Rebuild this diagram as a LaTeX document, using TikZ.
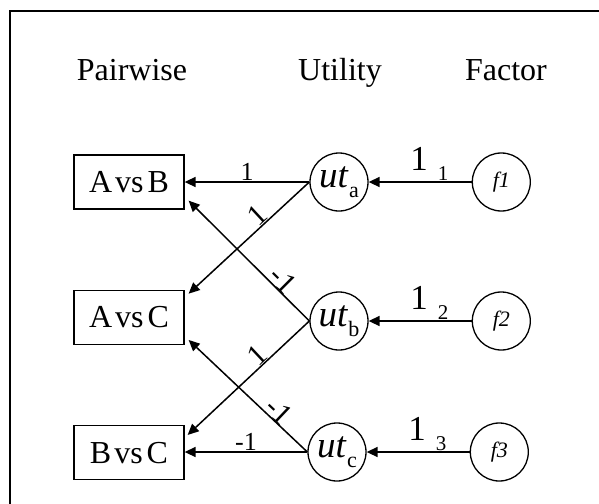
\documentclass[tikz,border=0pt]{standalone}
\usepackage{fontspec}
\setmainfont{Liberation Serif}
\usetikzlibrary{arrows.meta,positioning}
\newcommand{\ut}[1]{{\fontsize{37}{37}\selectfont\itshape ut}\hspace{1pt}\raisebox{-10pt}{\fontsize{22}{22}\selectfont #1}}
\newcommand{\ld}[1]{1\hspace{10pt}\raisebox{-10pt}{\fontsize{21}{21}\selectfont #1}}
\newcommand{\pr}[2]{#1\hspace{3pt}vs\hspace{4pt}#2}

\begin{document}
\begin{tikzpicture}[x=1pt, y=-1pt,
      pair/.style={draw, line width=1.3pt, minimum width=110pt, minimum height=54pt, inner sep=0pt, font=\fontsize{32}{32}\selectfont},
      util/.style={draw, circle, line width=1.3pt, minimum size=58pt, inner sep=0pt},
      fac/.style={draw, circle, line width=1.3pt, minimum size=58pt, inner sep=0pt, font=\fontsize{22}{22}\selectfont\itshape},
      head/.style={anchor=base, font=\fontsize{32}{32}\selectfont},
      lbl/.style={inner sep=0.5pt, font=\fontsize{26}{26}\selectfont},
      slant/.style={inner sep=0pt, sloped, above, font=\fontsize{30}{30}\selectfont},
      big/.style={inner sep=0.5pt, font=\fontsize{35}{35}\selectfont},
      arr/.style={-{Triangle[length=11pt, width=10pt]}, line width=1.5pt}]
    \clip (0,0) rectangle (599,503);
    \draw[line width=1.5pt] (10,11) rectangle (650,560);
    % column titles
    \node[head] (hpair) at (132,80) {Pairwise};
    \node[head] (hutil) at (340,80) {Utility};
    \node[head] (hfac) at (506,80) {Factor};
    % pairwise boxes
    \node[pair] (ab) at (129,182) {\pr{A}{B}};
    \node[pair, below=80pt of ab] (ac) {\pr{A}{C}};
    \node[pair, below=80pt of ac] (bc) {\pr{B}{C}};
    % utilities and factors
    \node[util] (uta) at (339,182) {\ut{a}};
    \node[util] (utb) at (339,321) {\ut{b}};
    \node[util] (utc) at (337,452) {\ut{c}};
    \node[fac, right=103pt of uta] (f1) {f1};
    \node[fac, right=103pt of utb] (f2) {f2};
    \node[fac, right=103pt of utc] (f3) {f3};
    % loadings
    \draw[arr] (f1) -- (uta) node[big, pos=.41, above] {\ld{1}};
    \draw[arr] (f2) -- (utb) node[big, pos=.41, above] {\ld{2}};
    \draw[arr] (f3) -- (utc) node[big, pos=.41, above] {\ld{3}};
    % design weights
    \draw[arr] (uta.west) -- (uta.west -| ab.east) node[lbl, midway, above] {1};
    \draw[arr] (uta.west) -- ([shift={(4,4)}]ac.north east) node[slant, pos=.37] {1};
    \draw[arr] (utb.west) -- ([shift={(4,-9)}]ab.south east) node[slant, pos=.28] {-1};
    \draw[arr] (utb.west) -- ([shift={(3,10)}]bc.north east) node[slant, pos=.37] {1};
    \draw[arr] (utc.west) -- ([shift={(4,-5)}]ac.south east) node[slant, pos=.3] {-1};
    \draw[arr] (utc.west) -- (utc.west -| bc.east) node[lbl, midway, above] {-1};
  \end{tikzpicture}
\end{document}
